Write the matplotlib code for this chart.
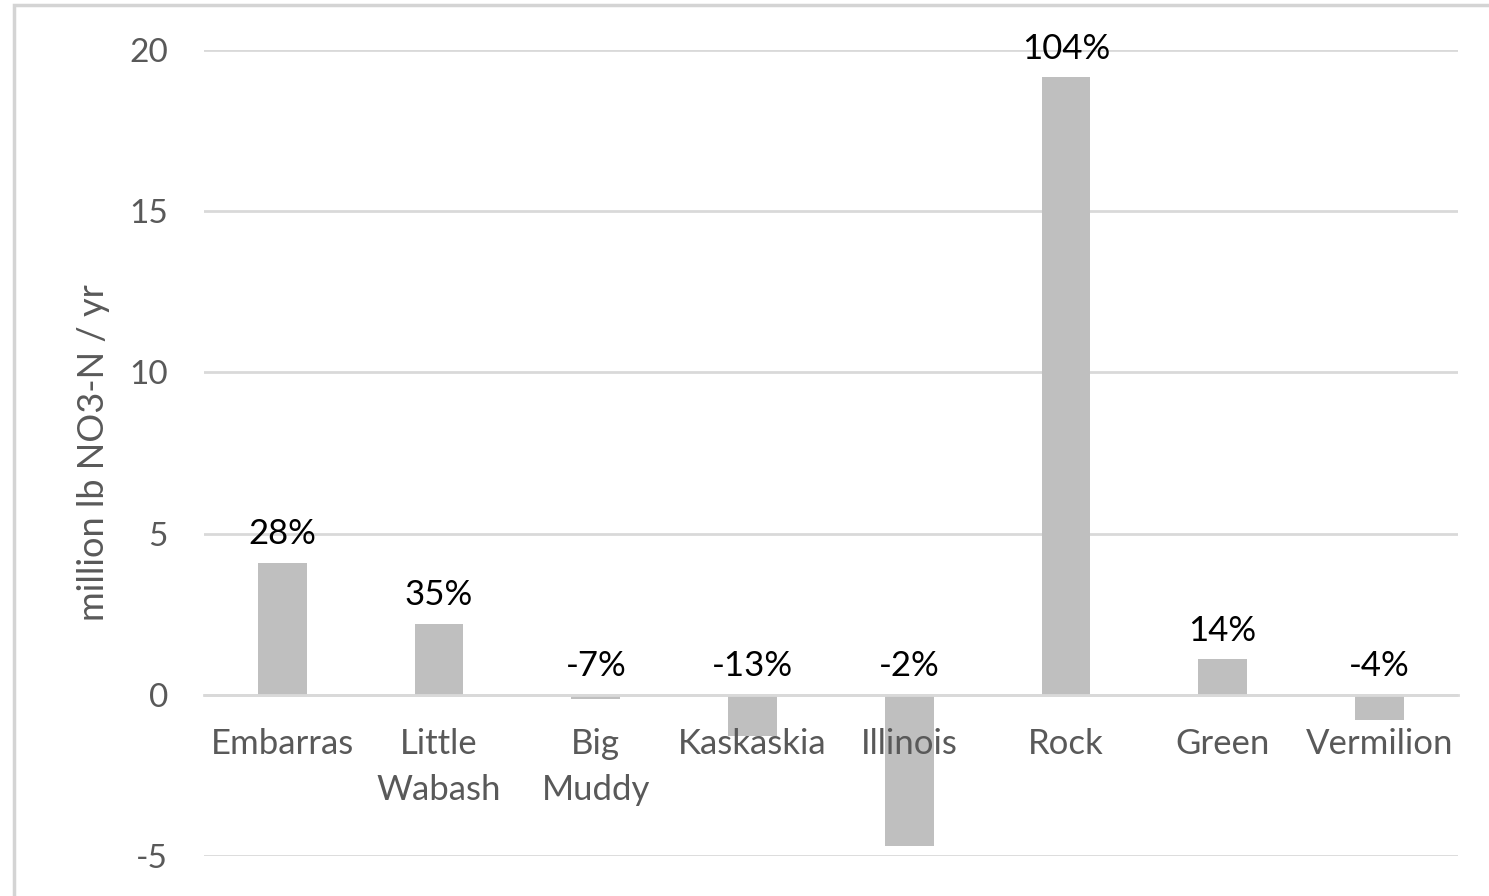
import numpy as np
import matplotlib
matplotlib.use('Agg')
import matplotlib.pyplot as plt
from matplotlib.patches import Rectangle

rivers = ['Embarras', 'Little\nWabash', 'Big\nMuddy', 'Kaskaskia', 'Illinois', 'Rock', 'Green', 'Vermilion']
change = [4.1, 2.2, -0.12, -1.27, -4.69, 19.15, 1.11, -0.79]
pct = ['28%', '35%', '-7%', '-13%', '-2%', '104%', '14%', '-4%']

plt.rcParams['font.family'] = ['Lato', 'DejaVu Sans']
plt.rcParams['axes.unicode_minus'] = False

fig = plt.figure(figsize=(14.89, 8.96), dpi=100)
ax = fig.add_axes([0.137, 0.0446, 0.842, 0.8996])

# outer chart frame
fig.patches.append(Rectangle((14/1489, -0.1), 1.2, 1.1 - 5/896, transform=fig.transFigure,
                             fill=False, edgecolor='#d4d4d4', linewidth=2.5))

x = np.arange(len(rivers))
ax.bar(x, change, width=0.31, color='#bfbfbf', zorder=2)

ax.set_xlim(-0.5, len(rivers) - 0.5)
ax.set_ylim(-5, 20)
ax.set_yticks([-5, 0, 5, 10, 15, 20])
ax.yaxis.grid(True, color='#d9d9d9', linewidth=2)
ax.set_axisbelow(True)
for s in ['top', 'right', 'left']:
    ax.spines[s].set_visible(False)
ax.spines['bottom'].set_position(('data', 0))
ax.spines['bottom'].set_color('#d9d9d9')
ax.spines['bottom'].set_linewidth(2)

ax.set_xticks([])
ax.tick_params(axis='y', length=0, pad=26, labelsize=24, labelcolor='#595959')
ax.set_ylabel('million lb NO3-N / yr', fontsize=26, color='#595959', labelpad=14)

# category names sit just under the zero line, on top of the bars
for i, name in enumerate(rivers):
    ax.annotate(name, (i, 0), xytext=(0, -24), textcoords='offset points',
                ha='center', va='top', fontsize=25, color='#595959',
                linespacing=1.55, zorder=5)

# percent change labels
for i, v in enumerate(change):
    base = v if v > 0 else 0
    ax.annotate(pct[i], (i, base), xytext=(0, 9), textcoords='offset points',
                ha='center', va='bottom', fontsize=25, color='black', zorder=5)

fig.savefig('out.png', dpi=100)
